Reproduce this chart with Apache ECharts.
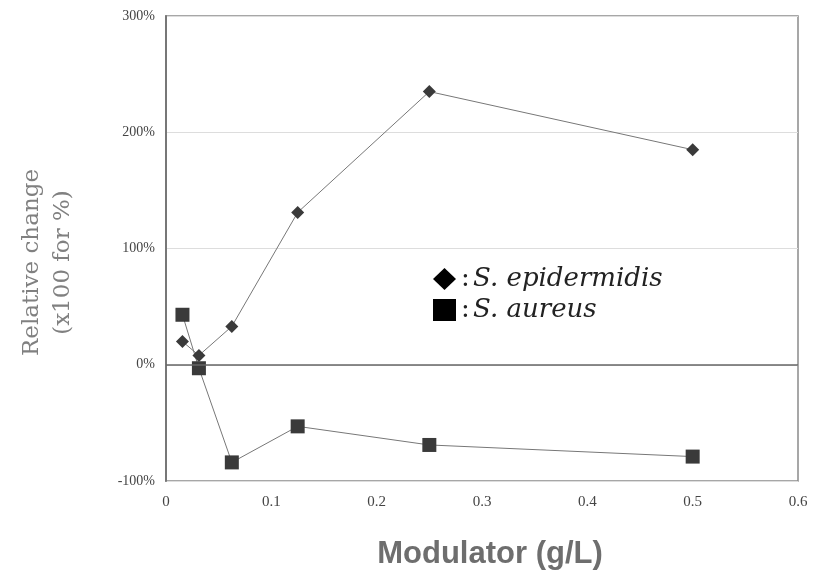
<!DOCTYPE html>
<html>
<head>
<meta charset="utf-8">
<script src="https://cdn.jsdelivr.net/npm/echarts@6/dist/echarts.min.js"></script>
<style>
  html, body { margin: 0; padding: 0; background: #fff; }
  #chart { width: 825px; height: 579px; }
</style>
</head>
<body>
<div id="chart"></div>
<script>
// modulator concentrations (g/L)
const doses = [0.015625, 0.03125, 0.0625, 0.125, 0.25, 0.5];
// relative change, in %
const epidermidis = [20, 8, 33, 131, 235, 185];
const aureus = [43, -3, -84, -53, -69, -79];
const yTicks = [-100, 0, 100, 200, 300];

const pairs = (ys) => doses.map((x, i) => [x, ys[i]]);

const chart = echarts.init(document.getElementById('chart'));
chart.setOption({
  animation: false,
  grid: { left: 166, right: 27, top: 16, bottom: 98, show: true, borderColor: '#8a8a8a', borderWidth: 1.5 },
  legend: {
    orient: 'vertical',
    left: 428,
    top: 261,
    itemWidth: 23,
    itemHeight: 22,
    itemGap: 5,
    data: [
      { name: 'S. epidermidis', icon: 'diamond', itemStyle: { color: '#000' } },
      { name: 'S. aureus', icon: 'rect', itemStyle: { color: '#000' } }
    ],
    formatter: (n) => '{c|:} {i|' + n + '}',
    textStyle: {
      rich: {
        c: { fontFamily: 'DejaVu Serif', fontSize: 26, color: '#222' },
        i: { fontFamily: 'DejaVu Serif', fontStyle: 'italic', fontSize: 26, color: '#222' }
      }
    }
  },
  xAxis: {
    type: 'value',
    min: 0,
    max: 0.6,
    interval: 0.1,
    name: 'Modulator (g/L)',
    nameLocation: 'middle',
    nameGap: 58,
    nameTextStyle: { fontFamily: 'Liberation Sans', fontWeight: 'bold', fontSize: 31, color: '#6e6e6e', padding: [0, 0, 0, 16] },
    axisLine: { show: false },
    axisTick: { show: false },
    splitLine: { show: false },
    axisLabel: {
      margin: 14,
      fontFamily: 'Liberation Serif',
      fontSize: 15,
      color: '#444',
      formatter: (v) => v === 0 ? '0' : v.toFixed(1)
    }
  },
  yAxis: {
    type: 'value',
    min: yTicks[0],
    max: yTicks[yTicks.length - 1],
    interval: 100,
    name: 'Relative change\n(x100 for %)',
    nameLocation: 'middle',
    nameGap: 87,
    nameTextStyle: { fontFamily: 'DejaVu Serif', fontSize: 23, color: '#808080', lineHeight: 31, padding: [0, 28, 0, 0] },
    axisLine: { show: true, lineStyle: { color: '#777', width: 2 } },
    axisTick: { show: false },
    splitLine: { show: true, lineStyle: { color: '#ddd', width: 1 } },
    axisLabel: {
      margin: 11,
      fontFamily: 'Liberation Serif',
      fontSize: 14,
      color: '#444',
      formatter: '{value}%'
    }
  },
  series: [
    {
      name: 'S. epidermidis',
      type: 'line',
      data: pairs(epidermidis),
      symbol: 'diamond',
      symbolSize: 13,
      lineStyle: { color: '#777', width: 1 },
      itemStyle: { color: '#3a3a3a' },
      markLine: {
        silent: true,
        symbol: 'none',
        label: { show: false },
        lineStyle: { color: '#666', width: 1.5, type: 'solid' },
        data: [{ yAxis: 0 }]
      }
    },
    {
      name: 'S. aureus',
      type: 'line',
      data: pairs(aureus),
      symbol: 'rect',
      symbolSize: 14,
      lineStyle: { color: '#777', width: 1 },
      itemStyle: { color: '#3a3a3a' }
    }
  ]
});
window.addEventListener('resize', function() {
  chart.resize();
});
</script>
</body>
</html>
